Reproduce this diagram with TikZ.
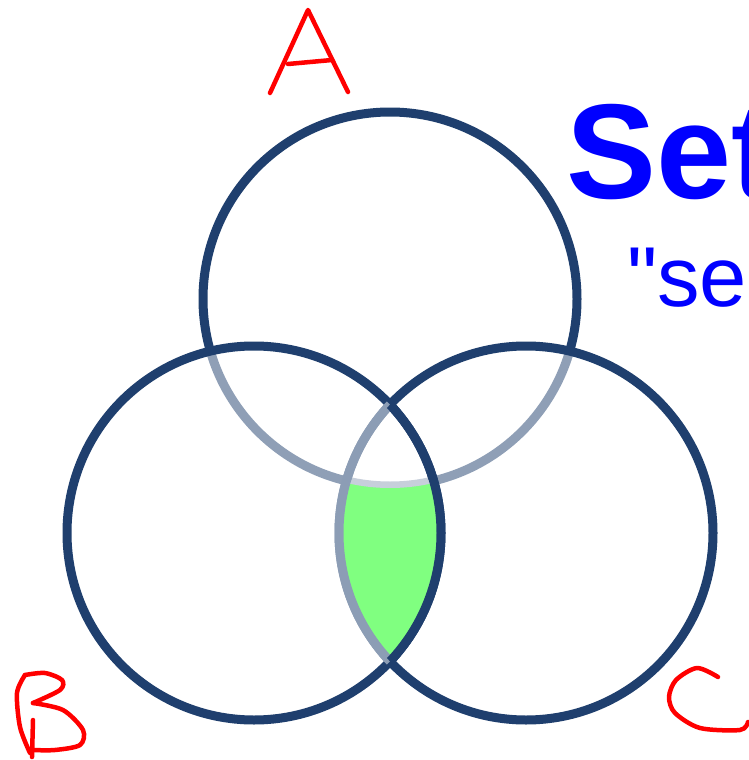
\documentclass[tikz,border=0pt]{standalone}
\usepackage{fontspec}
\setmainfont{Liberation Sans}
\definecolor{navy}{RGB}{31,63,110}
\definecolor{greyline}{RGB}{140,157,181}
\definecolor{hlgreen}{RGB}{128,255,128}
\definecolor{hldark}{RGB}{70,200,80}
\tikzset{
  ring/.style={draw=navy, line width=9pt, fill=white, fill opacity=0.5, draw opacity=1},
  redpen/.style={draw=red, line width=4.5pt, line cap=round, line join=round},
  title/.style={text=blue, inner sep=0pt, anchor=base west}
}
\begin{document}
\begin{tikzpicture}[x=1pt,y=-1pt]
\clip (0,0) rectangle (749,760);
\fill[white] (0,0) rectangle (749,760);
\coordinate (cA) at (390,299);
\coordinate (cB) at (254,533);
\coordinate (cC) at (526,533);
% circles, A then C then B
\path[ring] (cA) circle[radius=187pt];
\path[ring] (cC) circle[radius=187pt];
\path[ring] (cB) circle[radius=187pt];
% highlighted region B and C minus A
\begin{scope}
  \clip (cB) circle[radius=187pt];
  \clip (cC) circle[radius=187pt];
  \fill[hlgreen, even odd rule] (0,0) rectangle (749,760) (cA) circle[radius=187pt];
  \draw[navy!25, line width=4pt] (cA) circle[radius=187pt];
\end{scope}
\begin{scope}
  \clip (cB) circle[radius=187pt];
  \draw[greyline, line width=9pt] (cC) circle[radius=187pt];
\end{scope}
\begin{scope}
  \clip (cC) circle[radius=187pt];
  \draw[navy, line width=9pt] (cB) circle[radius=187pt];
\end{scope}
% labels
\draw[redpen] (270,93) -- (308,10) -- (348,92);
\draw[redpen] (288,64) -- (332,60);
\draw[redpen] plot[smooth] coordinates {(25,675) (17,693) (20,727) (30,753)};
\draw[redpen] plot[smooth] coordinates {(25,675) (45,673) (62,680) (60,690) (33,703)};
\draw[redpen] plot[smooth] coordinates {(33,703) (63,710) (83,730) (80,745) (55,750) (33,750)};
\draw[redpen] (33,720) -- (32,757);
\draw[redpen] plot[smooth] coordinates {(718,677) (697,668) (676,680) (669,697) (675,713) (700,728) (740,730) (748,722)};
% title text
\node[title, font=\fontsize{135}{135}\selectfont\bfseries] (ttl) at (566,198) {Set};
\node[title, font=\fontsize{85}{85}\selectfont] (sub) at (627,306) {\XeTeXglyph\XeTeXcharglyph"22 se};
\end{tikzpicture}
\end{document}
